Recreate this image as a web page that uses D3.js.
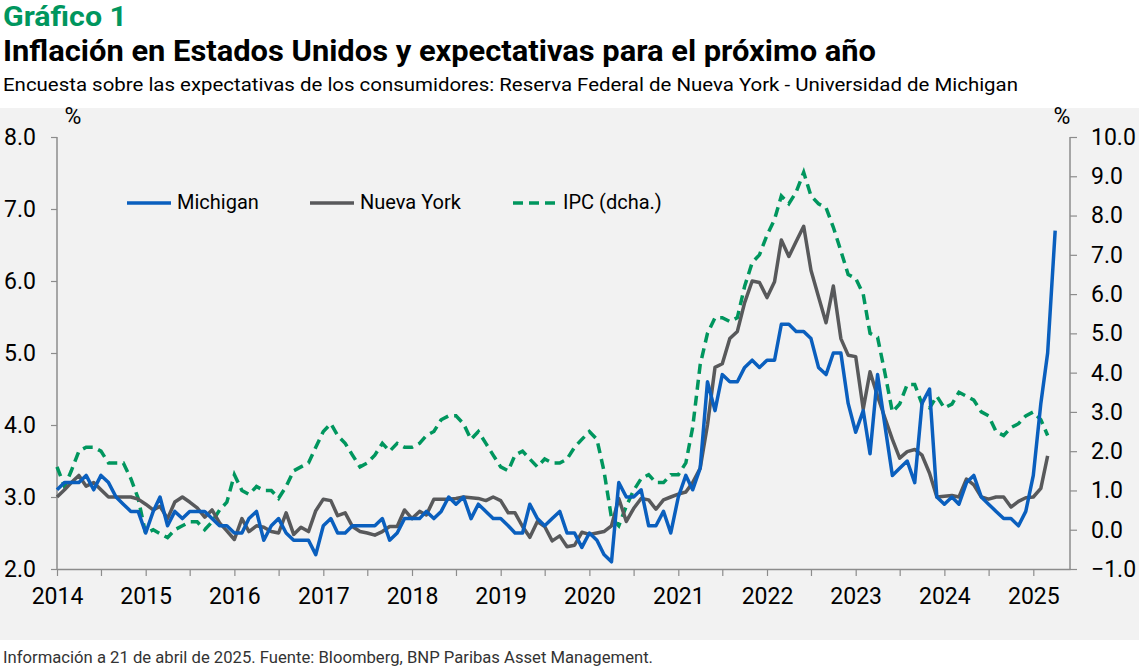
<!DOCTYPE html>
<html>
<head>
<meta charset="utf-8">
<script src="https://cdn.jsdelivr.net/npm/d3@7"></script>
<style>
  body { margin: 0; background: #fff; }
  svg text { font-family: Roboto, "Liberation Sans", sans-serif; }
</style>
</head>
<body>
<svg id="chart"></svg>
<script>
// monthly values, first month = Jan 2014
var startMonth = new Date(2014, 0, 1);

var michigan = [
  3.1,3.2,3.2,3.2,3.3,3.1,3.3,3.2,3.0,2.9,2.8,2.8,
  2.5,2.8,3.0,2.6,2.8,2.7,2.8,2.8,2.8,2.7,2.6,2.6,
  2.5,2.5,2.7,2.8,2.4,2.6,2.7,2.5,2.4,2.4,2.4,2.2,
  2.6,2.7,2.5,2.5,2.6,2.6,2.6,2.6,2.7,2.4,2.5,2.7,
  2.7,2.7,2.8,2.7,2.8,3.0,2.9,3.0,2.7,2.9,2.8,2.7,
  2.7,2.6,2.5,2.5,2.9,2.7,2.6,2.7,2.8,2.5,2.5,2.3,
  2.5,2.4,2.2,2.1,3.2,3.0,3.0,3.1,2.6,2.6,2.8,2.5,
  3.0,3.3,3.1,3.4,4.6,4.2,4.7,4.6,4.6,4.8,4.9,4.8,
  4.9,4.9,5.4,5.4,5.3,5.3,5.2,4.8,4.7,5.0,5.0,4.3,
  3.9,4.2,3.6,4.7,4.0,3.3,3.4,3.5,3.2,4.3,4.5,3.0,
  2.9,3.0,2.9,3.2,3.3,3.0,2.9,2.8,2.7,2.7,2.6,2.8,
  3.3,4.3,5.0,6.7
];

var nuevaYork = [
  3.0,3.1,3.2,3.3,3.15,3.2,3.1,3.0,3.0,3.0,3.0,2.97,
  2.9,2.82,2.87,2.7,2.93,3.0,2.93,2.85,2.72,2.82,2.64,2.53,
  2.41,2.7,2.52,2.6,2.58,2.52,2.5,2.78,2.48,2.58,2.52,2.81,
  2.97,2.95,2.74,2.78,2.59,2.52,2.5,2.47,2.52,2.59,2.59,2.82,
  2.7,2.8,2.75,2.97,2.97,2.97,2.98,3.0,2.99,2.98,2.95,3.0,
  2.95,2.78,2.78,2.59,2.44,2.66,2.59,2.39,2.46,2.31,2.33,2.51,
  2.48,2.5,2.52,2.6,2.98,2.66,2.84,2.98,2.96,2.83,2.96,3.0,
  3.04,3.07,3.2,3.4,4.0,4.8,4.85,5.2,5.3,5.7,6.0,5.98,
  5.77,5.99,6.57,6.34,6.55,6.76,6.15,5.78,5.42,5.93,5.2,4.97,
  4.95,4.22,4.74,4.4,4.1,3.8,3.54,3.63,3.66,3.58,3.33,3.0,
  3.01,3.02,3.0,3.25,3.17,3.0,2.97,3.0,3.0,2.86,2.94,2.99,
  3.0,3.12,3.57
];

var ipc = [
  1.6,1.1,1.5,2.0,2.1,2.1,2.0,1.7,1.7,1.7,1.3,0.8,
  -0.1,0.0,-0.1,-0.2,0.0,0.1,0.2,0.2,0.0,0.2,0.5,0.7,
  1.4,1.0,0.9,1.1,1.0,1.0,0.8,1.1,1.5,1.6,1.7,2.1,
  2.5,2.7,2.4,2.2,1.9,1.6,1.7,1.9,2.2,2.0,2.2,2.1,
  2.1,2.2,2.4,2.5,2.8,2.9,2.9,2.7,2.3,2.5,2.2,1.9,
  1.6,1.5,1.9,2.0,1.8,1.6,1.8,1.7,1.7,1.8,2.1,2.3,
  2.5,2.3,1.5,0.3,0.1,0.6,1.0,1.3,1.4,1.2,1.2,1.4,
  1.4,1.7,2.6,4.2,5.0,5.4,5.4,5.3,5.4,6.2,6.8,7.0,
  7.5,7.9,8.5,8.3,8.6,9.1,8.5,8.3,8.2,7.7,7.1,6.5,
  6.4,6.0,5.0,4.9,4.0,3.0,3.2,3.7,3.7,3.2,3.1,3.4,
  3.1,3.2,3.5,3.4,3.3,3.0,2.9,2.5,2.4,2.6,2.7,2.9,
  3.0,2.8,2.4
];

var leftTicks = [2, 3, 4, 5, 6, 7, 8];
var rightTicks = [-1, 0, 1, 2, 3, 4, 5, 6, 7, 8, 9, 10];

var W = 1139, H = 669;
var svg = d3.select("#chart").attr("width", W).attr("height", H);

var blue = "#0a5fbe", grey = "#58595b", green = "#00965e";

// plot bg
svg.append("rect").attr("x", 0).attr("y", 108).attr("width", W).attr("height", 532)
  .attr("fill", "#f2f2f2");

// titles
svg.append("text").attr("x", 3).attr("y", 26)
  .attr("font-size", 27).attr("font-weight", "bold").attr("fill", green)
  .attr("textLength", 124).attr("lengthAdjust", "spacingAndGlyphs")
  .text("Gráfico 1");
svg.append("text").attr("x", 3).attr("y", 61)
  .attr("font-size", 29).attr("font-weight", "bold").attr("fill", "#000")
  .attr("textLength", 873).attr("lengthAdjust", "spacingAndGlyphs")
  .text("Inflación en Estados Unidos y expectativas para el próximo año");
svg.append("text").attr("x", 3).attr("y", 91)
  .attr("font-size", 19).attr("fill", "#000")
  .attr("textLength", 1015).attr("lengthAdjust", "spacingAndGlyphs")
  .text("Encuesta sobre las expectativas de los consumidores: Reserva Federal de Nueva York - Universidad de Michigan");
svg.append("text").attr("x", 3).attr("y", 663)
  .attr("font-size", 17).attr("fill", "#333")
  .attr("textLength", 650).attr("lengthAdjust", "spacingAndGlyphs")
  .text("Información a 21 de abril de 2025. Fuente: Bloomberg, BNP Paribas Asset Management.");

var plotLeft = 57, plotRight = 1070, plotTop = 137, plotBottom = 569;

var x = d3.scaleTime()
  .domain([new Date(2014, 0, 1), new Date(2025, 5, 1)])
  .range([plotLeft, plotRight]);
var yL = d3.scaleLinear().domain([2, 8]).range([plotBottom, plotTop]);
var yR = d3.scaleLinear().domain([-1, 10]).range([plotBottom, plotTop]);

function monthDate(i) { return d3.timeMonth.offset(startMonth, i); }

// axes
var fmt = d3.format(".1f");
var gL = svg.append("g").attr("transform", "translate(" + plotLeft + ",0)")
  .call(d3.axisLeft(yL).tickValues(leftTicks).tickFormat(fmt).tickSize(6).tickSizeOuter(0).tickPadding(15));
var gR = svg.append("g").attr("transform", "translate(" + plotRight + ",0)")
  .call(d3.axisRight(yR).tickValues(rightTicks).tickFormat(fmt).tickSize(7).tickSizeOuter(0).tickPadding(14));
var xTicks = d3.timeMonth.every(6).range(new Date(2014, 0, 1), new Date(2025, 5, 1));
var gX = svg.append("g").attr("transform", "translate(0," + plotBottom + ")")
  .call(d3.axisBottom(x).tickValues(xTicks)
    .tickFormat(function(d){ return d.getMonth() === 0 ? d.getFullYear() : ""; })
    .tickSize(7).tickSizeOuter(0).tickPadding(12));

[gL, gR, gX].forEach(function(g){
  g.select(".domain").attr("stroke", "#8c8c8c").attr("stroke-width", 1.5);
  g.selectAll(".tick line").attr("stroke", "#8c8c8c").attr("stroke-width", 1.2);
  g.selectAll(".tick text").attr("font-size", 23).attr("fill", "#000")
    .style("font-family", "Roboto, sans-serif");
});
gL.select(".domain").attr("d", "M0," + plotTop + "V" + plotBottom);
gR.select(".domain").attr("d", "M0," + plotTop + "V" + plotBottom);

svg.append("text").attr("x", 73).attr("y", 124).attr("text-anchor", "middle")
  .attr("font-size", 23).text("%");
svg.append("text").attr("x", 1062).attr("y", 124).attr("text-anchor", "middle")
  .attr("font-size", 23).text("%");

// lines
var lineL = d3.line().x(function(d, i){ return x(monthDate(i)); }).y(function(d){ return yL(d); });
var lineR = d3.line().x(function(d, i){ return x(monthDate(i)); }).y(function(d){ return yR(d); });

svg.append("path").datum(ipc).attr("d", lineR).attr("fill", "none")
  .attr("stroke", green).attr("stroke-width", 3.5).attr("stroke-dasharray", "10,6");
svg.append("path").datum(nuevaYork).attr("d", lineL).attr("fill", "none")
  .attr("stroke", grey).attr("stroke-width", 3.5).attr("stroke-linejoin", "round");
svg.append("path").datum(michigan).attr("d", lineL).attr("fill", "none")
  .attr("stroke", blue).attr("stroke-width", 3.5).attr("stroke-linejoin", "round");

// legend
var legend = [
  { name: "Michigan", color: blue, x: 127, dash: null },
  { name: "Nueva York", color: grey, x: 310, dash: null },
  { name: "IPC (dcha.)", color: green, x: 513, dash: "10,6" }
];
var lg = svg.append("g");
legend.forEach(function(l){
  lg.append("line").attr("x1", l.x).attr("x2", l.x + 44).attr("y1", 203).attr("y2", 203)
    .attr("stroke", l.color).attr("stroke-width", 3.5)
    .attr("stroke-dasharray", l.dash);
  lg.append("text").attr("x", l.x + 50).attr("y", 209).attr("font-size", 20)
    .attr("fill", "#000").text(l.name);
});
</script>
</body>
</html>
